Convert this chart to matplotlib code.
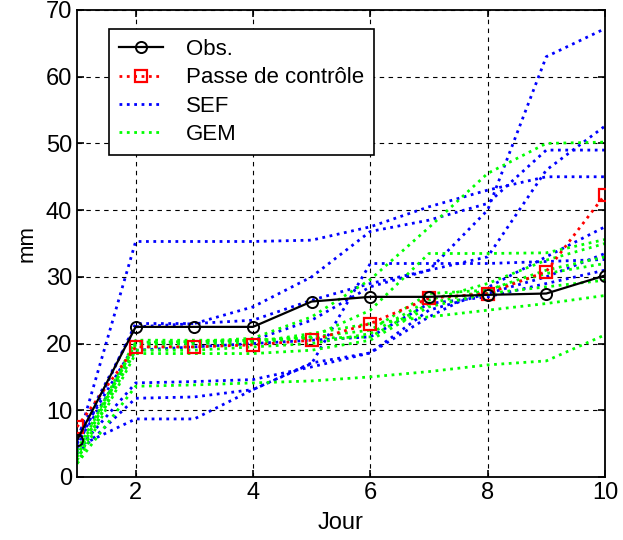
import numpy as np
import matplotlib.pyplot as plt

plt.rcParams['font.family'] = ['Liberation Sans', 'DejaVu Sans']

# jours
jour = np.arange(1, 11)

# observations et passe de controle (mm)
obs = [5.5, 22.5, 22.5, 22.5, 26.3, 27.0, 27.0, 27.3, 27.5, 30.2]
passe = [7.5, 19.5, 19.5, 19.8, 20.5, 23.0, 26.8, 27.5, 30.8, 42.3]

# membres SEF
sef1 = [5.0, 35.3, 35.3, 35.3, 35.5, 37.5, 40.5, 43.0, 45.0, 45.0]
sef2 = [4.5, 23.0, 23.0, 23.5, 26.5, 29.0, 31.0, 40.0, 63.0, 67.2]
sef3 = [6.0, 22.5, 23.0, 25.5, 30.0, 36.8, 38.5, 41.0, 49.0, 49.0]
sef4 = [5.5, 20.0, 20.0, 20.5, 23.5, 28.5, 31.0, 33.0, 46.0, 52.6]
sef5 = [4.0, 14.1, 14.3, 14.6, 16.5, 18.6, 24.0, 28.4, 33.0, 37.5]
sef6 = [3.5, 11.8, 12.0, 13.1, 17.0, 32.0, 32.0, 32.0, 32.3, 32.6]
sef7 = [4.5, 8.7, 8.7, 13.1, 17.1, 18.6, 25.0, 27.5, 30.0, 33.5]
sef8 = [5.0, 19.0, 19.5, 20.0, 20.5, 21.0, 26.0, 27.0, 29.0, 31.0]

# membres GEM
gem1 = [3.0, 20.0, 20.3, 20.8, 24.0, 29.6, 37.4, 45.5, 50.0, 50.2]
gem2 = [2.5, 19.5, 19.5, 20.0, 21.0, 25.0, 33.5, 33.5, 33.6, 35.6]
gem3 = [2.5, 19.0, 19.0, 19.5, 20.0, 21.5, 26.5, 29.0, 32.5, 35.0]
gem4 = [3.5, 20.5, 20.5, 20.5, 20.8, 21.0, 26.0, 28.0, 30.5, 32.0]
gem5 = [2.0, 18.5, 18.5, 18.5, 19.0, 20.5, 25.5, 27.5, 28.5, 29.5]
gem6 = [4.0, 19.8, 20.0, 20.2, 21.5, 23.0, 24.0, 25.0, 26.0, 27.2]
gem7 = [2.0, 13.6, 13.8, 14.1, 14.4, 15.0, 15.8, 16.8, 17.4, 21.3]
gem8 = [3.0, 20.2, 20.3, 20.5, 21.0, 22.0, 27.5, 28.0, 31.0, 33.0]

sef = [sef1, sef2, sef3, sef4, sef5, sef6, sef7, sef8]
gem = [gem1, gem2, gem3, gem4, gem5, gem6, gem7, gem8]

fig = plt.figure(figsize=(6.23, 5.4), dpi=100)
ax = fig.add_axes([0.1236, 0.1167, 0.8474, 0.8648])

for k, s in enumerate(sef):
    ax.plot(jour, s, ':', color=(0, 0, 1), lw=2, label='SEF' if k == 0 else None)
for k, g in enumerate(gem):
    ax.plot(jour, g, ':', color=(0, 1, 0), lw=2, label='GEM' if k == 0 else None)
ax.plot(jour, passe, ':', color=(1, 0, 0), lw=2, marker='s', ms=9, mfc='none',
        mec=(1, 0, 0), mew=1.6, label='Passe de contrôle', zorder=5)
ax.plot(jour, obs, '-', color='k', lw=1.6, marker='o', ms=8, mfc='none',
        mew=1.4, label='Obs.', zorder=6)

ax.set_xlim(1, 10)
ax.set_ylim(0, 70)
ax.set_xticks([2, 4, 6, 8, 10])
ax.set_yticks(np.arange(0, 71, 10))
ax.tick_params(direction='in', top=True, right=True, labelsize=17, length=5, width=1.2)
ax.grid(True, color='k', linestyle=(0, (4, 4)), lw=0.8)
for sp in ax.spines.values():
    sp.set_linewidth(1.3)
ax.set_xlabel('Jour', fontsize=17, labelpad=6)
ax.set_ylabel('mm', fontsize=16, labelpad=6)

h, l = ax.get_legend_handles_labels()
order = [l.index('Obs.'), l.index('Passe de contrôle'), l.index('SEF'), l.index('GEM')]
legend = ax.legend([h[i] for i in order], [l[i] for i in order], loc='upper left',
                   bbox_to_anchor=(0.0606, 0.959), fontsize=16, fancybox=False,
                   edgecolor='k', framealpha=1, handlelength=2.0, borderpad=0.45,
                   labelspacing=0.33, handletextpad=1.0, borderaxespad=0)
legend.get_frame().set_linewidth(1.2)

plt.savefig('out.png', dpi=100)
